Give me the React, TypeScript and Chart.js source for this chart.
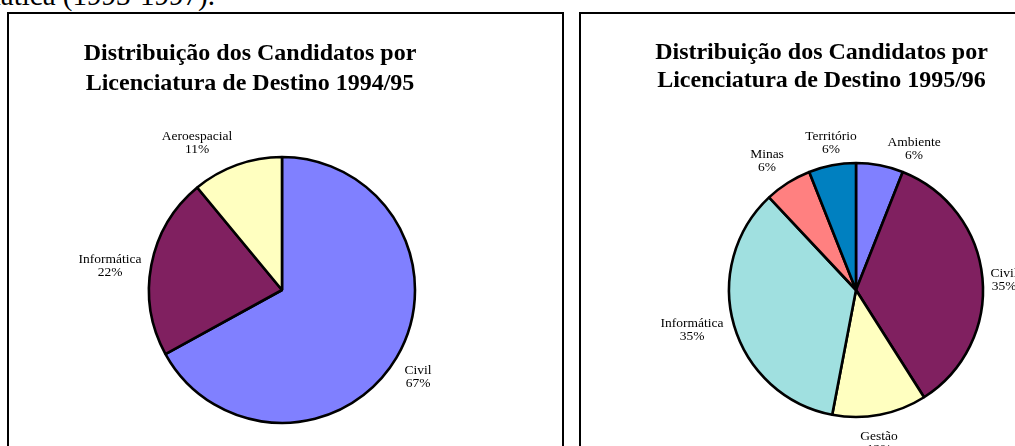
import React, { useEffect, useRef } from "react";
import { Chart, registerables } from "chart.js";
Chart.register(...registerables);

// ---- Data ----
const title9495 = ["Distribuição dos Candidatos por", "Licenciatura de Destino 1994/95"];
const categories9495 = ["Civil", "Informática", "Aeroespacial"];
const shares9495 = [67, 22, 11];
const colors9495 = ["#8080FF", "#802060", "#FFFFC0"];

const title9596 = ["Distribuição dos Candidatos por", "Licenciatura de Destino 1995/96"];
const categories9596 = ["Ambiente", "Civil", "Gestão", "Informática", "Minas", "Território"];
const shares9596 = [6, 35, 12, 35, 6, 6];
const colors9596 = ["#8080FF", "#802060", "#FFFFC0", "#A0E0E0", "#FF8080", "#0080C0"];

// ---- Label placement (relative to pie centre) ----
const labelOffsets9495 = [[136, 84], [-172, -27], [-85, -150]];
const labelOffsets9596 = [[58, -144], [148, -13], [23, 150], [-164, 37], [-89, -132], [-25, -150]];

type PieProps = {
  title: string[];
  labels: string[];
  values: number[];
  colors: string[];
  offsets: number[][];
  titleDx: number;
  titleDy: number;
  titleLH: number;
  labelLH: number;
  radius: number;
  width: number;
  height: number;
  clipRight: number;
  padding: { left: number; right: number; top: number; bottom: number };
  style: React.CSSProperties;
};

function PieChart(p: PieProps) {
  const ref = useRef<HTMLCanvasElement | null>(null);
  useEffect(() => {
    if (!ref.current) return;
    const textPlugin = {
      id: "pieTexts",
      afterDraw(chart: any) {
        const ctx = chart.ctx as CanvasRenderingContext2D;
        const arc = chart.getDatasetMeta(0).data[0] as any;
        const cx = arc.x;
        const cy = arc.y;
        ctx.save();
        ctx.fillStyle = "#000";
        ctx.textAlign = "center";
        ctx.textBaseline = "alphabetic";
        ctx.font = "bold 24px 'Liberation Serif', 'Times New Roman', serif";
        p.title.forEach((line, i) => {
          ctx.fillText(line, cx + p.titleDx, cy + p.titleDy + i * p.titleLH);
        });
        ctx.beginPath();
        ctx.rect(0, 0, cx + p.clipRight, chart.height);
        ctx.clip();
        ctx.font = "13.5px 'Liberation Serif', 'Times New Roman', serif";
        const vals = chart.data.datasets[0].data as number[];
        (chart.data.labels as string[]).forEach((lab, i) => {
          const [dx, dy] = p.offsets[i];
          ctx.fillText(lab, cx + dx, cy + dy);
          ctx.fillText(vals[i] + "%", cx + dx, cy + dy + p.labelLH);
        });
        ctx.restore();
      },
    };
    const chart = new Chart(ref.current, {
      type: "pie",
      data: {
        labels: p.labels,
        datasets: [
          {
            data: p.values,
            backgroundColor: p.colors,
            borderColor: "#000",
            borderWidth: 2.6,
          },
        ],
      },
      options: {
        animation: false,
        responsive: false,
        maintainAspectRatio: false,
        radius: p.radius,
        layout: { padding: p.padding },
        events: [],
        plugins: {
          legend: { display: false },
          tooltip: { enabled: false },
          title: { display: false },
        },
      } as any,
      plugins: [textPlugin],
    });
    return () => chart.destroy();
  }, []);
  return (
    <canvas
      ref={ref}
      width={p.width}
      height={p.height}
      style={{ position: "absolute", width: p.width, height: p.height, ...p.style }}
    />
  );
}

export default function App() {
  return (
    <div
      style={{
        position: "fixed",
        left: 0,
        top: 0,
        width: 1015,
        height: 446,
        overflow: "hidden",
        background: "#fff",
      }}
    >
      <div
        style={{
          position: "absolute",
          right: 800,
          top: -19,
          whiteSpace: "nowrap",
          fontFamily: "'Liberation Serif', 'Times New Roman', serif",
          fontSize: 29,
          lineHeight: "29px",
          color: "#000",
        }}
      >
        Informática (1993-1997).
      </div>
      <div
        style={{
          position: "absolute",
          left: 7,
          top: 12,
          width: 557,
          height: 500,
          border: "2px solid #000",
          boxSizing: "border-box",
        }}
      />
      <div
        style={{
          position: "absolute",
          left: 579,
          top: 12,
          width: 600,
          height: 500,
          border: "2px solid #000",
          boxSizing: "border-box",
        }}
      />
      <PieChart
        title={title9495}
        labels={categories9495}
        values={shares9495}
        colors={colors9495}
        offsets={labelOffsets9495}
        titleDx={-32}
        titleDy={-230}
        titleLH={30}
        labelLH={13}
        radius={133}
        width={552}
        height={432}
        clipRight={151}
        padding={{ left: 0, right: 6, top: 120, bottom: 0 }}
        style={{ left: 9, top: 14 }}
      />
      <PieChart
        title={title9596}
        labels={categories9596}
        values={shares9596}
        colors={colors9596}
        offsets={labelOffsets9596}
        titleDx={-34.5}
        titleDy={-231}
        titleLH={28}
        labelLH={12.5}
        radius={127}
        width={434}
        height={432}
        clipRight={400}
        padding={{ left: 116, right: 0, top: 120, bottom: 0 }}
        style={{ left: 581, top: 14 }}
      />
    </div>
  );
}
